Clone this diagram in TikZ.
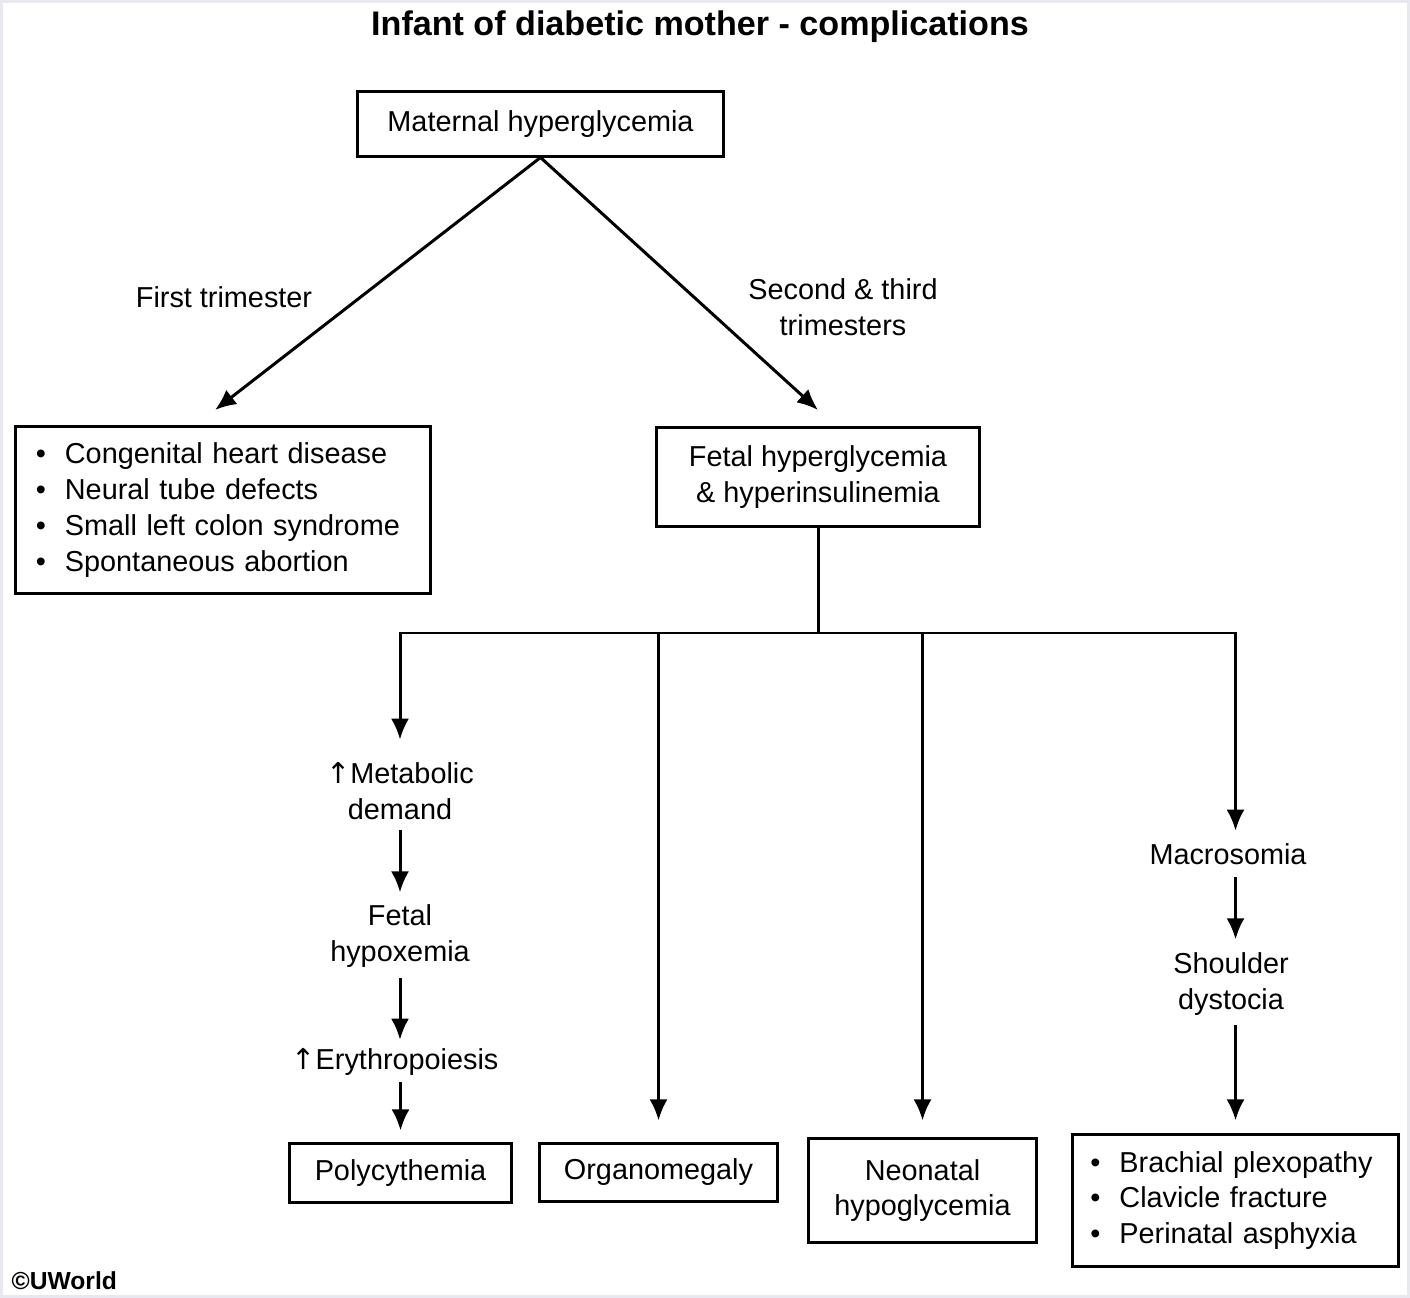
\documentclass[tikz,border=0pt]{standalone}
\usepackage{fontspec}
\setmainfont{Liberation Sans}
\newfontfamily\symfont{DejaVu Sans}
\usetikzlibrary{arrows.meta}
\definecolor{framegray}{RGB}{232,232,240}
\newcommand{\bul}{\makebox[0.29cm][l]{\textbullet}}
\newcommand{\upar}{{\symfont ↑}}

\begin{document}
\begin{tikzpicture}[x=0.01cm,y=-0.01cm,
  font=\fontsize{8.2}{10.2}\selectfont,
  box/.style={draw,line width=0.85pt,inner sep=0pt,align=center},
  txt/.style={inner sep=0pt,align=center},
  line/.style={line width=0.85pt},
  arr/.style={line width=0.85pt,-{Latex[length=0.21cm,width=0.18cm]}}]
\useasboundingbox (0,0) rectangle (1410,1298);
\draw[framegray,line width=0.03cm] (1.5,1.5) rectangle (1408.5,1296.5);

\node[txt,font=\fontsize{9.7}{12}\selectfont\bfseries] (ttl) at (700,27) {Infant of diabetic mother - complications};

\node[box,minimum width=3.65cm,minimum height=0.64cm] (mat) at (540.5,124) {Maternal hyperglycemia};
\node[txt] (t1) at (224,297) {First trimester};
\node[txt] (t23) at (843,307) {Second \& third\\trimesters};

\node[box,minimum width=4.14cm,minimum height=1.66cm,align=left,text width=3.74cm] (lst) at (223,510)
  {\bul Congenital heart disease\\\bul Neural tube defects\\\bul Small left colon syndrome\\\bul Spontaneous abortion};
\node[box,minimum width=3.22cm,minimum height=0.98cm] (fet) at (818,477) {Fetal hyperglycemia\\\& hyperinsulinemia};
\coordinate (bus) at (818,633);
\coordinate (lsttip) at (215,410);
\coordinate (fettip) at (818,410);

% left column
\node[txt] (met) at (400,791) {\upar Metabolic\\demand};
\node[txt] (hyp) at (400,936) {Fetal\\hypoxemia};
\node[txt] (ery) at (395,1062) {\upar Erythropoiesis};
\node[box,minimum width=2.21cm,minimum height=0.58cm] (poly) at (400.5,1173) {Polycythemia};

% middle
\node[box,minimum width=2.37cm,minimum height=0.57cm] (org) at (658.5,1172.5) {Organomegaly};
\node[box,minimum width=2.27cm,minimum height=1.03cm] (neo) at (922.5,1190.5) {Neonatal\\hypoglycemia};

% right column
\node[txt] (mac) at (1228,854) {Macrosomia};
\node[txt] (sho) at (1231,984) {Shoulder\\dystocia};
\node[box,minimum width=3.25cm,minimum height=1.31cm,align=left,text width=2.9cm] (bra) at (1235.5,1200.5)
  {\bul Brachial plexopathy\\\bul Clavicle fracture\\\bul Perinatal asphyxia};

\node[inner sep=0pt,anchor=west,font=\fontsize{7}{8}\selectfont\bfseries] (cpr) at (11,1281) {©UWorld};

\draw[arr] (mat.south) -- (lsttip);
\draw[arr] (mat.south) -- (fettip);
\draw[line] (fet.south) -- (bus);
\draw[arr,shorten >=0.22cm] (bus) -| (met.north);
\draw[arr,shorten >=0.22cm] (bus) -| (org.north);
\draw[arr,shorten >=0.17cm] (bus) -| (neo.north);
\draw[arr,shorten >=0.12cm] (bus) -| (mac.north -| bra.north);

\draw[arr,shorten <=0.1cm,shorten >=0.115cm] (met.south) -- (hyp.north);
\draw[arr,shorten <=0.1cm,shorten >=0.08cm] (hyp.south) -- (hyp.south |- ery.north);
\draw[arr,shorten <=0.06cm,shorten >=0.12cm] (ery.south -| poly.north) -- (poly.north);

\draw[arr,shorten <=0.12cm,shorten >=0.125cm] (mac.south -| bra.north) -- (sho.north -| bra.north);
\draw[arr,shorten <=0.085cm,shorten >=0.13cm] (sho.south -| bra.north) -- (bra.north);
\end{tikzpicture}
\end{document}
